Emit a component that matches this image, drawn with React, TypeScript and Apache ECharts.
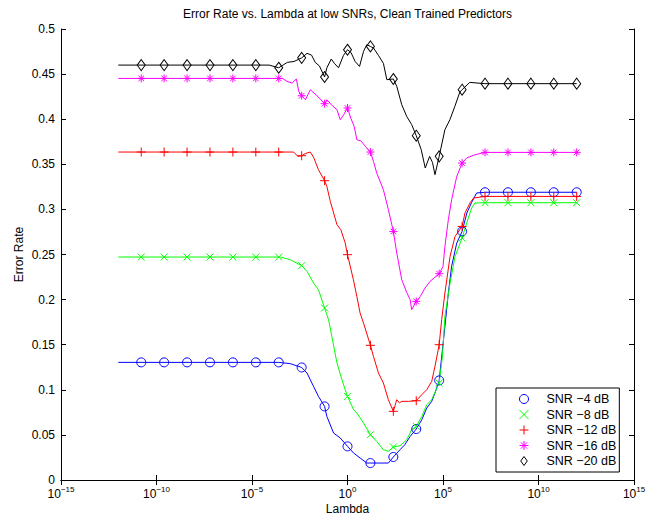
import React, { useEffect, useRef } from 'react';
import * as echarts from 'echarts';

const TITLE = 'Error Rate vs. Lambda at low SNRs, Clean Trained Predictors';
const X_NAME = 'Lambda';
const Y_NAME = 'Error Rate';
const SERIES_NAMES = ['SNR −4 dB', 'SNR −8 dB', 'SNR −12 dB', 'SNR −16 dB', 'SNR −20 dB'];
const COLORS = ['#0000ff', '#00ff00', '#ff0000', '#ff00ff', '#000000'];

// exponents (log10 of Lambda) where the markers sit
const MARKER_EXP = [-10.8, -9.6, -8.4, -7.2, -6, -4.8, -3.6, -2.4, -1.2, 0, 1.2, 2.4, 3.6, 4.8, 6, 7.2, 8.4, 9.6, 10.8, 12];

// SNR -4 dB
const SNR4_EXP = [-12, -3.6, -3.0, -2.4, -2.12, -1.78, -1.52, -1.2, -1.08, -0.73, -0.38, 0, 0.32, 0.66, 1.01, 1.2, 1.6, 2.14, 2.4, 2.75, 3.0, 3.28, 3.6, 3.89, 4.15, 4.41, 4.58, 4.8, 5.1, 5.28, 5.45, 5.72, 6.0, 6.25, 6.5, 6.76, 7.2, 12];
const SNR4_VAL = [0.1304, 0.1304, 0.129, 0.1248, 0.1186, 0.1038, 0.0927, 0.0816, 0.0705, 0.0521, 0.0466, 0.0373, 0.0299, 0.0244, 0.0188, 0.0188, 0.0188, 0.0188, 0.0255, 0.0336, 0.0391, 0.0483, 0.0565, 0.0668, 0.0798, 0.0872, 0.0964, 0.1104, 0.1703, 0.2073, 0.2368, 0.2627, 0.2756, 0.296, 0.3078, 0.3182, 0.319, 0.319];
const SNR4_MARK = [0.1304, 0.1304, 0.1304, 0.1304, 0.1304, 0.1304, 0.1304, 0.1248, 0.0816, 0.0373, 0.0188, 0.0255, 0.0565, 0.1104, 0.2756, 0.319, 0.319, 0.319, 0.319, 0.319];

// SNR -8 dB
const SNR8_EXP = [-12, -3.5, -3.0, -2.4, -2.12, -1.78, -1.52, -1.2, -0.99, -0.82, -0.55, -0.29, -0.12, 0, 0.32, 0.49, 0.84, 1.2, 1.53, 1.88, 2.14, 2.4, 2.75, 3.1, 3.36, 3.6, 3.89, 4.15, 4.41, 4.8, 4.97, 5.1, 5.37, 5.63, 6.0, 6.24, 6.5, 6.67, 7.2, 12];
const SNR8_VAL = [0.2472, 0.2472, 0.2442, 0.2376, 0.2313, 0.2184, 0.211, 0.1907, 0.1777, 0.1592, 0.1297, 0.1112, 0.1001, 0.0927, 0.0779, 0.0743, 0.0632, 0.0502, 0.0428, 0.0336, 0.0317, 0.0366, 0.038, 0.0447, 0.0558, 0.0594, 0.0705, 0.0835, 0.089, 0.1075, 0.137, 0.1814, 0.2184, 0.2479, 0.2683, 0.2849, 0.3016, 0.3071, 0.3074, 0.3074];
const SNR8_MARK = [0.2472, 0.2472, 0.2472, 0.2472, 0.2472, 0.2472, 0.2472, 0.2376, 0.1907, 0.0927, 0.0502, 0.0366, 0.0594, 0.1075, 0.2683, 0.3074, 0.3074, 0.3074, 0.3074, 0.3074];

// SNR -12 dB
const SNR12_EXP = [-12, -2.82, -2.6, -2.4, -2.2, -1.95, -1.78, -1.52, -1.2, -1.08, -0.9, -0.55, -0.35, -0.12, 0, 0.31, 0.49, 0.66, 0.84, 1.2, 1.36, 1.62, 1.88, 2.14, 2.4, 2.58, 2.72, 2.84, 3.2, 3.6, 3.89, 4.15, 4.41, 4.58, 4.8, 4.93, 5.1, 5.37, 5.63, 6.0, 6.15, 6.41, 6.6, 7.2, 12];
const SNR12_VAL = [0.3636, 0.3636, 0.3588, 0.3595, 0.362, 0.3636, 0.358, 0.344, 0.3318, 0.3255, 0.3089, 0.283, 0.2775, 0.2627, 0.2498, 0.222, 0.2035, 0.1851, 0.174, 0.1493, 0.137, 0.1186, 0.1075, 0.089, 0.0761, 0.089, 0.0855, 0.0872, 0.0872, 0.0879, 0.0946, 0.1001, 0.1093, 0.126, 0.15, 0.1777, 0.2073, 0.2479, 0.27, 0.2811, 0.296, 0.3071, 0.3126, 0.3144, 0.3144];
const SNR12_MARK = [0.3636, 0.3636, 0.3636, 0.3636, 0.3636, 0.3636, 0.3636, 0.3595, 0.3318, 0.2498, 0.1493, 0.0761, 0.0879, 0.15, 0.2811, 0.3144, 0.3144, 0.3144, 0.3144, 0.3144];

// SNR -16 dB
const SNR16_EXP = [-12, -3.4, -3.17, -2.9, -2.68, -2.55, -2.4, -2.2, -1.95, -1.7, -1.5, -1.2, -1.08, -0.8, -0.55, -0.38, -0.2, 0, 0.17, 0.35, 0.49, 0.7, 0.93, 1.2, 1.36, 1.53, 1.88, 2.14, 2.4, 2.58, 2.84, 3.1, 3.28, 3.36, 3.6, 3.81, 4.06, 4.32, 4.8, 5.0, 5.1, 5.28, 5.45, 5.72, 6.0, 6.24, 6.67, 7.2, 12];
const SNR16_VAL = [0.4452, 0.4452, 0.442, 0.44, 0.4446, 0.4308, 0.426, 0.4216, 0.4327, 0.428, 0.424, 0.4172, 0.4216, 0.415, 0.4105, 0.3994, 0.405, 0.4124, 0.4013, 0.392, 0.3773, 0.376, 0.37, 0.3636, 0.3532, 0.3404, 0.3218, 0.2997, 0.2756, 0.2517, 0.222, 0.208, 0.1999, 0.1888, 0.198, 0.2035, 0.2128, 0.2202, 0.2287, 0.2368, 0.259, 0.2886, 0.3107, 0.3366, 0.3514, 0.357, 0.3606, 0.3632, 0.3632];
const SNR16_MARK = [0.4452, 0.4452, 0.4452, 0.4452, 0.4452, 0.4452, 0.4452, 0.426, 0.4172, 0.4124, 0.3636, 0.2756, 0.198, 0.2287, 0.3514, 0.3632, 0.3632, 0.3632, 0.3632, 0.3632];

// SNR -20 dB
const SNR20_EXP = [-12, -4.1, -3.6, -3.15, -2.8, -2.4, -2.12, -1.88, -1.69, -1.47, -1.2, -1.08, -0.85, -0.69, -0.47, -0.21, 0, 0.18, 0.4, 0.63, 0.84, 1.01, 1.2, 1.36, 1.62, 1.88, 2.06, 2.4, 2.58, 2.84, 3.1, 3.36, 3.6, 3.86, 4.07, 4.3, 4.45, 4.58, 4.8, 5.1, 5.36, 5.62, 5.88, 6.0, 6.4, 7.2, 12];
const SNR20_VAL = [0.46, 0.46, 0.457, 0.463, 0.464, 0.468, 0.473, 0.471, 0.463, 0.459, 0.4468, 0.457, 0.4667, 0.462, 0.457, 0.4708, 0.477, 0.474, 0.464, 0.4585, 0.4752, 0.4826, 0.4807, 0.479, 0.4708, 0.4619, 0.4438, 0.4446, 0.4364, 0.4161, 0.4031, 0.394, 0.3817, 0.3662, 0.3459, 0.3588, 0.352, 0.3385, 0.3588, 0.3884, 0.3994, 0.4142, 0.43, 0.4327, 0.4408, 0.4394, 0.4394];
const SNR20_MARK = [0.46, 0.46, 0.46, 0.46, 0.46, 0.46, 0.457, 0.468, 0.4468, 0.477, 0.4807, 0.4446, 0.3817, 0.3588, 0.4327, 0.4394, 0.4394, 0.4394, 0.4394, 0.4394];

const CURVE_EXPS = [SNR4_EXP, SNR8_EXP, SNR12_EXP, SNR16_EXP, SNR20_EXP];
const CURVE_VALS = [SNR4_VAL, SNR8_VAL, SNR12_VAL, SNR16_VAL, SNR20_VAL];
const MARK_VALS = [SNR4_MARK, SNR8_MARK, SNR12_MARK, SNR16_MARK, SNR20_MARK];

const X_MIN = 1e-15;
const X_MAX = 1e15;
const Y_MIN = 0;
const Y_MAX = 0.5;
const Y_STEP = 0.05;

const FONT = '"Liberation Sans", Arial, Helvetica, sans-serif';

const SYMBOLS: any[] = [
  'circle',
  'path://M0,0L10,10M0,10L10,0',
  'path://M5,0L5,10M0,5L10,5',
  'path://M5,0L5,10M0,5L10,5M1.5,1.5L8.5,8.5M1.5,8.5L8.5,1.5',
  'path://M4,0L8,5.5L4,11L0,5.5Z',
];
const SYMBOL_SIZES: any[] = [9, 7, 9, 8, [8, 11]];

function toPoints(exps: number[], vals: number[]) {
  return exps.map((e, i) => [Math.pow(10, e), vals[i]]);
}

function xLabel(v: number) {
  const e = Math.round(Math.log10(v));
  const s = e < 0 ? '−' + Math.abs(e) : String(e);
  return '{b|10}{e|' + s + '}';
}

export default function App() {
  const ref = useRef<HTMLDivElement>(null);
  useEffect(() => {
    if (!ref.current) return;
    const chart = echarts.init(ref.current, null, { renderer: 'svg' });
    const axisCommon = {
      axisLine: { show: true, lineStyle: { color: '#000', width: 1 } },
      axisTick: { show: true, inside: true, length: 5, lineStyle: { color: '#000', width: 1 } },
      splitLine: { show: false },
    };
    const lineSeries = CURVE_EXPS.map((exps, i) => ({
      type: 'line',
      name: 'curve' + i,
      data: toPoints(exps, CURVE_VALS[i]),
      showSymbol: false,
      symbol: 'none',
      lineStyle: { color: COLORS[i], width: 1 },
      itemStyle: { color: COLORS[i] },
      silent: true,
      z: 2,
    }));
    const markerSeries = MARK_VALS.map((vals, i) => ({
      type: 'scatter',
      name: SERIES_NAMES[i],
      data: toPoints(MARKER_EXP, vals),
      symbol: SYMBOLS[i],
      symbolSize: SYMBOL_SIZES[i],
      itemStyle: { color: 'none', borderColor: COLORS[i], borderWidth: 1, opacity: 1 },
      z: 3,
    }));
    chart.setOption({
      animation: false,
      backgroundColor: '#fff',
      textStyle: { fontFamily: FONT },
      title: {
        text: TITLE,
        left: 347.5,
        top: 8,
        padding: 0,
        textAlign: 'center',
        textStyle: { fontSize: 12, fontWeight: 'normal', color: '#000', fontFamily: FONT },
      },
      grid: { left: 61, top: 29, right: 15, bottom: 35, containLabel: false, outerBoundsMode: 'none' },
      legend: {
        data: SERIES_NAMES,
        orient: 'vertical',
        left: 496,
        top: 388,
        itemWidth: 35,
        itemHeight: 9,
        itemGap: 1.5,
        padding: [4, 3, 4, 21],
        borderColor: '#000',
        borderWidth: 1,
        backgroundColor: '#fff',
        borderRadius: 0,
        itemStyle: { borderWidth: 1 },
        textStyle: { fontSize: 12.5, color: '#000', fontFamily: FONT, lineHeight: 14 },
        selectedMode: false,
      },
      xAxis: [
        {
          type: 'log',
          logBase: 10,
          min: X_MIN,
          max: X_MAX,
          interval: 5,
          position: 'bottom',
          name: X_NAME,
          nameLocation: 'middle',
          nameGap: 23,
          nameMoveOverlap: false,
          nameTextStyle: { fontSize: 12, lineHeight: 11, color: '#000', fontFamily: FONT },
          ...axisCommon,
          axisLabel: {
            show: true,
            margin: 5,
            color: '#000',
            formatter: xLabel,
            rich: {
              b: { fontSize: 12, lineHeight: 15, verticalAlign: 'bottom', color: '#000', fontFamily: FONT },
              e: { fontSize: 8, lineHeight: 9, verticalAlign: 'top', color: '#000', fontFamily: FONT },
            },
          },
        },
        {
          type: 'log',
          logBase: 10,
          min: X_MIN,
          max: X_MAX,
          interval: 5,
          position: 'top',
          ...axisCommon,
          axisLabel: { show: false },
        },
      ],
      yAxis: [
        {
          type: 'value',
          min: Y_MIN,
          max: Y_MAX,
          interval: Y_STEP,
          position: 'left',
          name: Y_NAME,
          nameLocation: 'middle',
          nameGap: 36,
          nameMoveOverlap: false,
          nameTextStyle: { fontSize: 12, color: '#000', fontFamily: FONT },
          ...axisCommon,
          axisLabel: { show: true, margin: 6, fontSize: 12, color: '#000', fontFamily: FONT },
        },
        {
          type: 'value',
          min: Y_MIN,
          max: Y_MAX,
          interval: Y_STEP,
          position: 'right',
          ...axisCommon,
          axisLabel: { show: false },
        },
      ],
      series: [...lineSeries, ...markerSeries],
    });
    return () => chart.dispose();
  }, []);
  return (
    <div
      ref={ref}
      style={{ position: 'fixed', left: 0, top: 0, width: 649, height: 515, background: '#fff' }}
    />
  );
}
